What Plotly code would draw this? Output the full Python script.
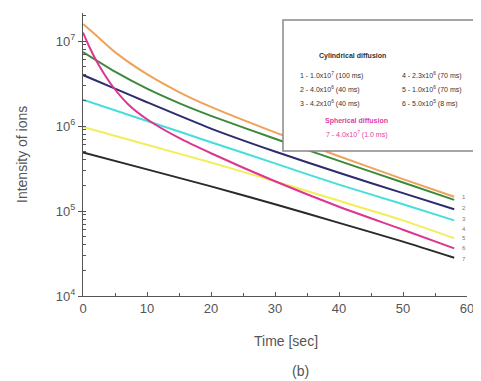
import plotly.graph_objects as go

# ---- data (log10 intensity) ----
t_orange = [0, 2, 5, 10, 15, 20, 30, 40, 50, 58]
v_orange = [7.2, 7.07, 6.87, 6.61, 6.40, 6.225, 5.925, 5.645, 5.375, 5.167]
t_green = [0, 5, 10, 15, 20, 30, 40, 50, 58]
v_green = [6.87, 6.64, 6.44, 6.27, 6.12, 5.85, 5.59, 5.335, 5.131]
t_navy = [0, 5, 10, 20, 30, 40, 50, 58]
v_navy = [6.60, 6.44, 6.28, 5.97, 5.70, 5.45, 5.21, 5.02]
t_cyan = [0, 10, 20, 30, 40, 50, 58]
v_cyan = [6.31, 6.06, 5.81, 5.56, 5.31, 5.08, 4.89]
t_yellow = [0, 10, 20, 30, 40, 50, 58]
v_yellow = [5.99, 5.78, 5.57, 5.35, 5.12, 4.89, 4.68]
t_black = [0, 10, 20, 30, 40, 50, 58]
v_black = [5.69, 5.49, 5.29, 5.08, 4.86, 4.64, 4.45]
t_magenta = [0, 1, 2, 3, 4.5, 7, 10, 15, 20, 30, 40, 50, 58]
v_magenta = [7.1, 6.93, 6.78, 6.65, 6.48, 6.26, 6.08, 5.86, 5.68, 5.35, 5.05, 4.78, 4.56]

end_labels = ["1", "2", "3", "4", "5", "6", "7"]
end_label_logs = [5.16, 5.03, 4.91, 4.79, 4.68, 4.56, 4.44]

x_ticks = [0, 10, 20, 30, 40, 50, 60]
y_tick_exps = [4, 5, 6, 7]

legend_head1 = "Cylindrical diffusion"
legend_rows_left = ["1 - 1.0x10<sup>7</sup> (100 ms)", "2 - 4.0x10<sup>6</sup> (40 ms)", "3 - 4.2x10<sup>6</sup> (40 ms)"]
legend_rows_right = ["4 - 2.3x10<sup>6</sup> (70 ms)", "5 - 1.0x10<sup>6</sup> (70 ms)", "6 - 5.0x10<sup>5</sup> (8 ms)"]
legend_head2 = "Spherical diffusion"
legend_row7 = "7 - 4.0x10<sup>7</sup> (1.0 ms)"

series = [
    (t_black, v_black, "#2a2a2a"),
    (t_yellow, v_yellow, "#f2ee5a"),
    (t_cyan, v_cyan, "#45dede"),
    (t_navy, v_navy, "#2c2c6e"),
    (t_green, v_green, "#3b8a3b"),
    (t_orange, v_orange, "#eea25a"),
    (t_magenta, v_magenta, "#dd3590"),
]

fig = go.Figure()
for t, v, c in series:
    fig.add_trace(go.Scatter(x=t, y=[10 ** a for a in v], mode="lines",
                             line=dict(color=c, width=2, shape="spline", smoothing=0.6),
                             showlegend=False, hoverinfo="skip"))

FONT = "Liberation Sans, Arial, sans-serif"
GRAY = "#555555"

# page body has an 8px margin: figure is placed at (8, 8)
fig.update_layout(
    width=473, height=373,
    margin=dict(l=75, r=14, t=5, b=85),
    paper_bgcolor="white", plot_bgcolor="white",
    font=dict(family=FONT, color=GRAY, size=13),
    showlegend=False,
)
fig.update_xaxes(range=[0, 60], tickvals=x_ticks, showgrid=False, zeroline=False,
                 automargin=False,
                 showline=True, linecolor="#555", linewidth=1.2,
                 ticks="inside", ticklen=4, tickcolor="#555",
                 minor=dict(dtick=5, ticks="inside", ticklen=3, tickcolor="#555"),
                 tickfont=dict(size=13, color=GRAY))
fig.update_yaxes(type="log", range=[4, 7.33],
                 tickvals=[10 ** e for e in y_tick_exps],
                 ticktext=["10<sup>%d</sup>" % e for e in y_tick_exps],
                 showgrid=False, zeroline=False, automargin=False,
                 showline=True, linecolor="#555", linewidth=1.2,
                 ticks="outside", ticklen=4, tickcolor="#555",
                 minor=dict(ticks="inside", ticklen=3, tickcolor="#555", dtick="D1", showgrid=False),
                 tickfont=dict(size=13, color=GRAY))

def py(pix):
    return (296 - pix) / 283

def px(pix):
    return (pix - 83) / 384

ann = []
ann.append(dict(text="Intensity of ions", x=px(22), y=py(155), xref="paper", yref="paper",
                xanchor="center", yanchor="middle",
                textangle=-90, showarrow=False, font=dict(size=14, color=GRAY)))
ann.append(dict(text="Time [sec]", x=px(286), y=py(341), xref="paper", yref="paper",
                xanchor="center", yanchor="middle",
                showarrow=False, font=dict(size=14, color=GRAY)))
ann.append(dict(text="(b)", x=px(300), y=py(371), xref="paper", yref="paper",
                xanchor="center", yanchor="middle",
                showarrow=False, font=dict(size=14, color=GRAY)))
for lab, lv in zip(end_labels, end_label_logs):
    ann.append(dict(text=lab, x=59.6, y=lv, xref="x", yref="y", showarrow=False,
                    font=dict(size=6, color="#777")))

ann.append(dict(text="<b>" + legend_head1 + "</b>", x=px(388), y=py(50), xref="paper", yref="paper",
                showarrow=False, font=dict(size=7, color="#333")))
for i, (l, r) in enumerate(zip(legend_rows_left, legend_rows_right)):
    yy = py(69 + 14 * i)
    ann.append(dict(text=l, x=px(298), y=yy, xref="paper", yref="paper", xanchor="left",
                    showarrow=False, font=dict(size=7, color="#333")))
    ann.append(dict(text=r, x=px(400), y=yy, xref="paper", yref="paper", xanchor="left",
                    showarrow=False, font=dict(size=7, color="#333")))
ann.append(dict(text="<b>" + legend_head2 + "</b>", x=px(390), y=py(121), xref="paper", yref="paper",
                showarrow=False, font=dict(size=7, color="#e040a0")))
ann.append(dict(text=legend_row7, x=px(390), y=py(135), xref="paper", yref="paper",
                showarrow=False, font=dict(size=7, color="#e040a0")))
fig.update_layout(annotations=ann)

fig.add_shape(type="rect", xref="paper", yref="paper",
              x0=px(283), x1=px(490), y0=py(151), y1=py(20),
              line=dict(color="#888", width=1.5), fillcolor="white", layer="above")

fig.write_html("out.html")
